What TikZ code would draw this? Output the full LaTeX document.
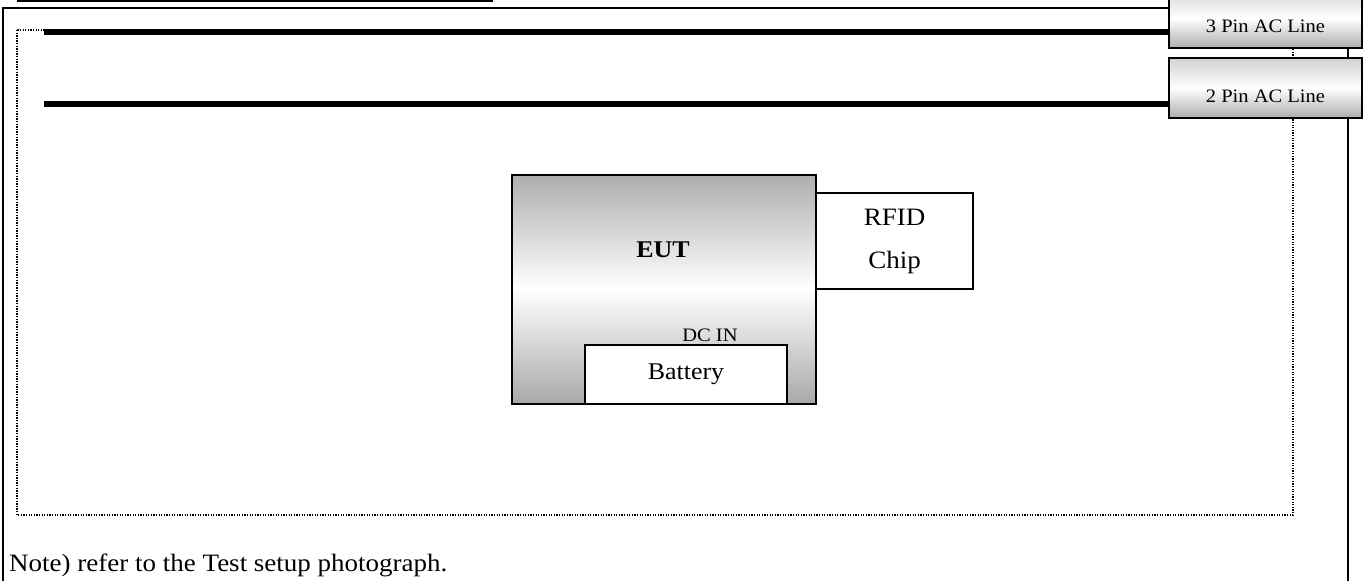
\documentclass[tikz,border=0pt]{standalone}
\usepackage{fontspec}
\setmainfont[FakeStretch=1.08]{Liberation Serif}
\usetikzlibrary{positioning}
\tikzset{
  every node/.style = {inner sep=0pt},
  bigtext/.style = {font=\fontsize{25}{43}\selectfont, align=center},
  midtext/.style = {font=\fontsize{24}{28}\selectfont},
  smalltext/.style = {font=\fontsize{19}{22}\selectfont},
  frame/.style = {line width=2pt},
  fence/.style = {line width=1.3pt, dash pattern=on 1.3pt off 1.3pt},
  cable/.style = {line width=6pt},
  acbox/.style = {draw, line width=1.5pt, minimum width=193pt, minimum height=60pt, top color=black!18, bottom color=black!32, middle color=white},
  eutbox/.style = {draw, line width=1.5pt, minimum width=304pt, minimum height=229pt, top color=black!32, bottom color=black!34, middle color=white},
  plainbox/.style = {draw, line width=1.5pt, fill=white, bigtext},
}

\begin{document}
\begin{tikzpicture}[x=1pt, y=-1pt]
  \useasboundingbox (0,0) rectangle (1366,581);

  % ----------------------------------------------------------------------
  % Outer frame and test table
  % ----------------------------------------------------------------------
  \draw[frame] (17,1) -- (493,1);
  \draw[frame] (1348,600) -- (1348,8) -- (3,8) -- (3,600);
  \draw[fence] (17,30) rectangle (1293,515);

  % ----------------------------------------------------------------------
  % AC lines
  % ----------------------------------------------------------------------
  \node[acbox] (ac3) at (1265.5,18) {};
  \node[acbox] (ac2) at (1265.5,88) {};
  \node[smalltext] (ac3label) at (1265.5,26) {3 Pin AC Line};
  \node[smalltext] (ac2label) at (1265.5,96) {2 Pin AC Line};

  \coordinate (c3) at (44,32);
  \coordinate (c2) at (44,104);
  \draw[cable] (c3) -- (c3 -| ac3.west);
  \draw[cable] (c2) -- (c2 -| ac2.west);

  % ----------------------------------------------------------------------
  % EUT
  % ----------------------------------------------------------------------
  \node[eutbox] (eut) at (664,289.5) {};
  \node[midtext, font=\fontsize{24}{28}\selectfont\bfseries] (euttext) at (663,250) {EUT};
  \node[plainbox, minimum width=157pt, minimum height=96pt] (rfid) at (894.5,241) {RFID\\Chip};
  \node[plainbox, midtext, minimum width=202pt, minimum height=59pt] (battery) at (686,374.5) {Battery};
  \node[smalltext] (dcin) at (710,335) {DC IN};

  % Note
  \node[bigtext, anchor=base west] (note) at (9,571) {Note) refer to the Test setup photograph.};
\end{tikzpicture}
\end{document}
